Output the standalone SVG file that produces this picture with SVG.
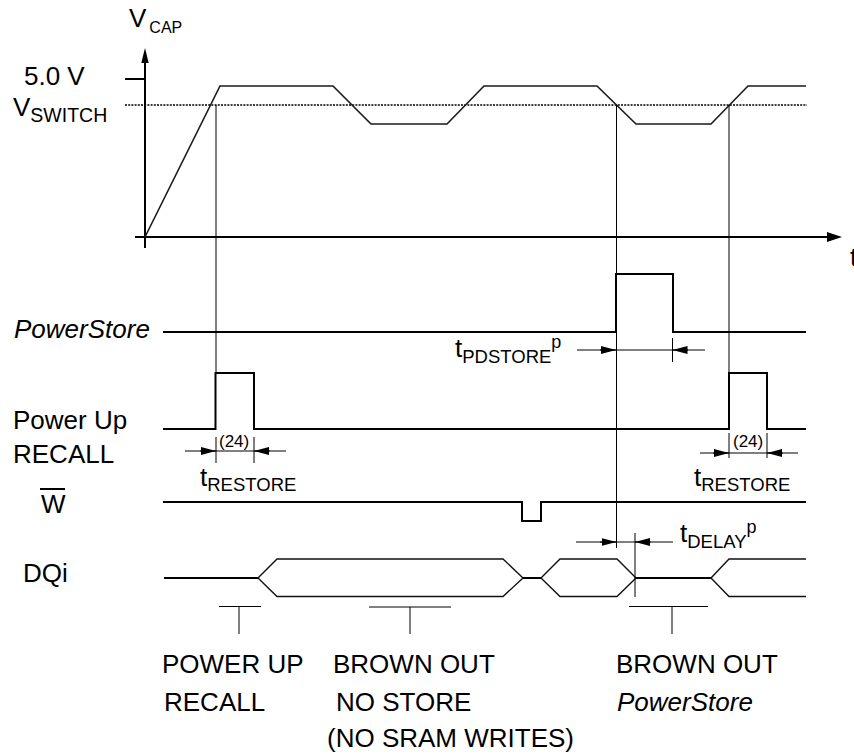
<svg xmlns="http://www.w3.org/2000/svg" width="854" height="755" viewBox="0 0 854 755">
<style>
text{font-family:"Liberation Sans",Arial,sans-serif;fill:#000}
.lbl{font-size:26px}
.it{font-style:italic}
.sub{font-size:18.5px}
.sup{font-size:18px}
.dim{font-size:17px}
.sig{fill:none;stroke:#000;stroke-width:2}
.wave{fill:none;stroke:#1a1a1a;stroke-width:1.6;stroke-linejoin:miter}
.thin{fill:none;stroke:#000;stroke-width:1}
.hex{fill:none;stroke:#111;stroke-width:1.4}
.axis{fill:none;stroke:#000;stroke-width:2}
.dot{fill:none;stroke:#000;stroke-width:1.5;stroke-dasharray:2 1.2}
.ah{fill:#000}
</style>
<defs>
<marker id="arr" markerUnits="userSpaceOnUse" markerWidth="16" markerHeight="10" refX="15" refY="4" orient="auto">
<path d="M0,0 L15,4 L0,8 Z" class="ah"/>
</marker>
</defs>

<g id="axes">
<line class="axis" x1="145" y1="60" x2="145" y2="248"/>
<polygon class="ah" points="145,48 141.3,63 148.7,63"/>
<line class="axis" x1="135" y1="237" x2="828" y2="237"/>
<polygon class="ah" points="842,237 827,232 827,242"/>
<line class="axis" x1="125" y1="79" x2="145" y2="79"/>
<line class="dot" x1="125" y1="105" x2="807" y2="105"/>
</g>

<g id="vcap-wave">
<polyline class="wave" points="145,237 220,86 333,86 371,124 447,124 484,86 597,86 636,124 711,124 748,86 806,86"/>
</g>

<g id="labels">
<text class="lbl" x="129" y="27">V<tspan class="sub" style="font-size:16px" dx="3" dy="6">CAP</tspan></text>
<text class="lbl" x="24" y="85">5.0 V</text>
<text class="lbl" x="13" y="116">V<tspan class="sub" style="font-size:19.5px" dy="6">SWITCH</tspan></text>
<text class="lbl" x="850" y="266">t</text>
<text class="lbl it" x="14" y="338">PowerStore</text>
<text class="lbl" x="13" y="429">Power Up</text>
<text class="lbl" x="13" y="463">RECALL</text>
<text class="lbl" x="41" y="513">W</text>
<line class="axis" x1="40" y1="489" x2="65" y2="489"/>
<text class="lbl" x="23" y="582">DQi</text>
</g>

<g id="powerstore">
<polyline class="sig" points="163,332 616,332 616,274 673,274 673,332 806,332"/>
</g>
<g id="recall">
<polyline class="sig" points="163,429 215.5,429 215.5,373 254,373 254,429 729,429 729,373 767,373 767,429 806,429"/>
</g>
<g id="w">
<polyline class="sig" points="163,502 522,502 522,521 541,521 541,502 806,502"/>
</g>
<g id="dqi">
<line class="sig" x1="164" y1="578" x2="258" y2="578"/>
<polygon class="hex" points="258,578 277,559 503,559 523,578 503,596.5 277,596.5"/>
<line class="sig" x1="523" y1="578" x2="541" y2="578"/>
<polygon class="hex" points="541,578 560,559 617,559 636,578 617,596.5 560,596.5"/>
<line class="sig" x1="636" y1="578" x2="711" y2="578"/>
<polyline class="hex" points="806,559 729,559 711,578 729,596.5 806,596.5"/>
</g>

<g id="connectors">
<line class="thin" x1="216" y1="105" x2="216" y2="373"/>
<line class="thin" x1="729" y1="105" x2="729" y2="373"/>
<line class="thin" x1="616.5" y1="105" x2="616.5" y2="548"/>
<line class="thin" x1="216" y1="437" x2="216" y2="463"/>
<line class="thin" x1="254" y1="437" x2="254" y2="463"/>
<line class="thin" x1="185" y1="451" x2="286" y2="451"/>
<path class="thin" d="M200,451 H216" marker-end="url(#arr)"/>
<path class="thin" d="M270,451 H254" marker-end="url(#arr)"/>
<line class="thin" x1="729" y1="433" x2="729" y2="458"/>
<line class="thin" x1="767" y1="433" x2="767" y2="458"/>
<line class="thin" x1="700" y1="453" x2="798" y2="453"/>
<path class="thin" d="M713,453 H729" marker-end="url(#arr)"/>
<path class="thin" d="M783,453 H767" marker-end="url(#arr)"/>
<line class="thin" x1="672.5" y1="338" x2="672.5" y2="362"/>
<line class="thin" x1="577" y1="350" x2="705" y2="350"/>
<path class="thin" d="M600,350 H616" marker-end="url(#arr)"/>
<path class="thin" d="M688,350 H672.5" marker-end="url(#arr)"/>
<line class="thin" x1="635" y1="533" x2="635" y2="597"/>
<line class="thin" x1="576" y1="542" x2="673" y2="542"/>
<path class="thin" d="M600,542 H616.5" marker-end="url(#arr)"/>
<path class="thin" d="M651,542 H635" marker-end="url(#arr)"/>
<line class="thin" x1="219" y1="606.5" x2="261" y2="606.5"/>
<line class="thin" x1="239" y1="606.5" x2="239" y2="634"/>
<line class="thin" x1="369" y1="607" x2="451" y2="607"/>
<line class="thin" x1="410" y1="607" x2="410" y2="634"/>
<line class="thin" x1="629" y1="606.5" x2="708" y2="606.5"/>
<line class="thin" x1="672" y1="606.5" x2="672" y2="634"/>
</g>

<g id="dim-labels">
<text class="dim" x="219" y="447">(24)</text>
<text class="dim" x="733" y="447">(24)</text>
<text class="lbl" x="200" y="486">t<tspan class="sub" dy="5">RESTORE</tspan></text>
<text class="lbl" x="694" y="486">t<tspan class="sub" dy="5">RESTORE</tspan></text>
<text class="lbl" x="455" y="357">t<tspan class="sub" dy="6">PDSTORE</tspan><tspan class="sup" dy="-15">p</tspan></text>
<text class="lbl" x="680" y="542">t<tspan class="sub" dy="6">DELAY</tspan><tspan class="sup" dy="-15">p</tspan></text>
</g>

<g id="phase-labels">
<text class="lbl" x="162" y="673">POWER UP</text>
<text class="lbl" x="164" y="711">RECALL</text>
<text class="lbl" x="333" y="673">BROWN OUT</text>
<text class="lbl" x="336" y="711">NO STORE</text>
<text class="lbl" x="327" y="747">(NO SRAM WRITES)</text>
<text class="lbl" x="616" y="673">BROWN OUT</text>
<text class="lbl it" x="617" y="711">PowerStore</text>
</g>
</svg>
